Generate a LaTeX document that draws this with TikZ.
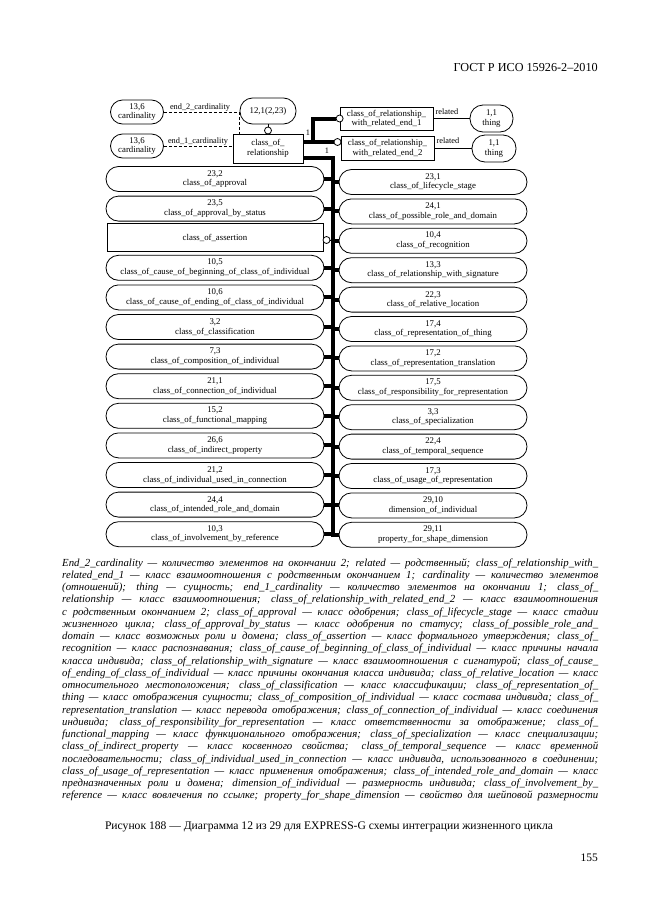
\documentclass[tikz,border=0pt]{standalone}
\usepackage{fontspec}
\setmainfont{Liberation Serif}
\usetikzlibrary{calc}
\newcommand\dfont{\fontsize{8.8}{9.6}\selectfont}
\newcommand\sfont{\fontsize{8.3}{9}\selectfont}
\newcommand\capfont{\fontsize{10.8}{12}\selectfont\itshape}
\begin{document}
\begin{tikzpicture}[x=1pt,y=-1pt,
  stad/.style={draw, line width=0.8pt, rounded corners=12.5pt, minimum height=25pt, inner sep=0pt, align=center, font=\dfont},
  lstad/.style={stad, minimum width=218pt},
  rstad/.style={stad, minimum width=188pt},
  ebox/.style={draw, line width=0.8pt, align=center, font=\dfont, inner sep=0pt},
  thk/.style={line width=4pt},
  thn/.style={line width=0.8pt},
  dashln/.style={line width=0.8pt, dash pattern=on 3pt off 2pt},
  oc/.style={circle, draw, fill=white, inner sep=0pt, minimum size=7pt, line width=0.8pt},
  lbl/.style={font=\sfont, inner sep=1pt},
  capl/.style={anchor=base west, inner sep=0pt, font=\capfont}
]
\useasboundingbox (0,0) rectangle (661,913);

% header
\node[anchor=base east, inner sep=0pt, font=\fontsize{12.2}{13}\selectfont] (hdr) at (598,71) {ГОСТ Р ИСО 15926-2–2010};

% top part
\node[stad, minimum width=53pt, minimum height=24pt, rounded corners=12pt] (c2) at (137,112) {13,6\\cardinality};
\node[stad, minimum width=53pt, minimum height=24pt, rounded corners=12pt] (c1) at (137,146) {13,6\\cardinality};
\node[stad, minimum width=56pt, minimum height=26pt] (sup) at (268,111) {12,1(2,23)};
\node[ebox, minimum width=70pt, minimum height=29pt] (cor) at (268,148.5) {class\_of\_\\relationship};

\coordinate (k2) at (239,134);
\draw[dashln] (c2.east) -| (k2);
\node[lbl, anchor=south] (lab2) at (200,112) {end\_2\_cardinality};
\draw[dashln] (c1.east) -- (c1.east -| cor.west);
\node[lbl, anchor=south] (lab1) at (198,146) {end\_1\_cardinality};

\node[oc] (osup) at (268,130.5) {};
\draw[thn] (sup.south) -- (osup.north);

\node[ebox, minimum width=93pt, minimum height=23pt] (e1) at (386.5,118.5) {class\_of\_relationship\_\\with\_related\_end\_1};
\node[ebox, minimum width=93pt, minimum height=24pt] (e2) at (387.5,148) {class\_of\_relationship\_\\with\_related\_end\_2};
\node[oc] (oA) at (e1.west) {};
\node[oc] (oB) at (337.5,142) {};

\coordinate (j1) at (313,142);
\draw[thk] (cor.east |- oB) -- (oB.west);
\draw[thk] (j1) |- (oA.west);
\node[lbl] (n1) at (308,133) {1};

\coordinate (b0) at (333,158);
\coordinate (b1) at (333,537);
\draw[thk] (cor.east |- b0) -- (b0) -- (b1);
\node[lbl] (n2) at (327,151) {1};

\node[stad, minimum width=43pt, minimum height=27pt, rounded corners=13pt] (t1) at (491.5,118.5) {1,1\\thing};
\node[stad, minimum width=44pt, minimum height=27pt, rounded corners=13pt] (t2) at (494,148.5) {1,1\\thing};
\draw[thn] (e1.east) -- (e1.east -| t1.west);
\draw[thn] (e2.east) -- (e2.east -| t2.west);
\node[lbl, anchor=south west] (rl1) at ($(e1.east)+(1,-3)$) {related};
\node[lbl, anchor=south west] (rl2) at ($(e2.east)+(1,-3)$) {related};

% columns
\newcommand\lnode[3]{\node[lstad] (l#1) at (215,{179+29.6*#1}) {#2\\#3}; \draw[thk] (l#1.east) -- (l#1.east -| b0);}
\newcommand\rnode[3]{\node[rstad] (r#1) at (433,{182+29.4*#1}) {#2\\#3}; \draw[thk] (r#1.west) -- (r#1.west -| b0);}

\lnode{0}{23,2}{class\_of\_approval}
\lnode{1}{23,5}{class\_of\_approval\_by\_status}
\node[ebox, minimum width=216pt, minimum height=28pt] (l2) at (215,237.5) {class\_of\_assertion};
\node[oc] (oas) at (326.5,240) {};
\draw[thn] (oas.east) -- (oas.east -| b0);
\lnode{3}{10,5}{class\_of\_cause\_of\_beginning\_of\_class\_of\_individual}
\lnode{4}{10,6}{class\_of\_cause\_of\_ending\_of\_class\_of\_individual}
\lnode{5}{3,2}{class\_of\_classification}
\lnode{6}{7,3}{class\_of\_composition\_of\_individual}
\lnode{7}{21,1}{class\_of\_connection\_of\_individual}
\lnode{8}{15,2}{class\_of\_functional\_mapping}
\lnode{9}{26,6}{class\_of\_indirect\_property}
\lnode{10}{21,2}{class\_of\_individual\_used\_in\_connection}
\lnode{11}{24,4}{class\_of\_intended\_role\_and\_domain}
\lnode{12}{10,3}{class\_of\_involvement\_by\_reference}

\rnode{0}{23,1}{class\_of\_lifecycle\_stage}
\rnode{1}{24,1}{class\_of\_possible\_role\_and\_domain}
\rnode{2}{10,4}{class\_of\_recognition}
\rnode{3}{13,3}{class\_of\_relationship\_with\_signature}
\rnode{4}{22,3}{class\_of\_relative\_location}
\rnode{5}{17,4}{class\_of\_representation\_of\_thing}
\rnode{6}{17,2}{class\_of\_representation\_translation}
\rnode{7}{17,5}{class\_of\_responsibility\_for\_representation}
\rnode{8}{3,3}{class\_of\_specialization}
\rnode{9}{22,4}{class\_of\_temporal\_sequence}
\rnode{10}{17,3}{class\_of\_usage\_of\_representation}
\rnode{11}{29,10}{dimension\_of\_individual}
\rnode{12}{29,11}{property\_for\_shape\_dimension}

% caption text
\newcommand\capline[2]{\node[capl] (cap#1) at (62,{566+12.25*#1}) {\makebox[536pt][s]{#2}};}
\capline{0}{End\_2\_cardinality — количество элементов на окончании 2; related — родственный; class\_of\_relationship\_with\_}
\capline{1}{related\_end\_1 — класс взаимоотношения с родственным окончанием 1; cardinality — количество элементов}
\capline{2}{(отношений); thing — сущность; end\_1\_cardinality — количество элементов на окончании 1; class\_of\_}
\capline{3}{relationship — класс взаимоотношения; class\_of\_relationship\_with\_related\_end\_2 — класс взаимоотношения}
\capline{4}{с родственным окончанием 2; class\_of\_approval — класс одобрения; class\_of\_lifecycle\_stage — класс стадии}
\capline{5}{жизненного цикла; class\_of\_approval\_by\_status — класс одобрения по статусу; class\_of\_possible\_role\_and\_}
\capline{6}{domain — класс возможных роли и домена; class\_of\_assertion — класс формального утверждения; class\_of\_}
\capline{7}{recognition — класс распознавания; class\_of\_cause\_of\_beginning\_of\_class\_of\_individual — класс причины начала}
\capline{8}{класса индивида; class\_of\_relationship\_with\_signature — класс взаимоотношения с сигнатурой; class\_of\_cause\_}
\capline{9}{of\_ending\_of\_class\_of\_individual — класс причины окончания класса индивида; class\_of\_relative\_location — класс}
\capline{10}{относительного местоположения; class\_of\_classification — класс классификации; class\_of\_representation\_of\_}
\capline{11}{thing — класс отображения сущности; class\_of\_composition\_of\_individual — класс состава индивида; class\_of\_}
\capline{12}{representation\_translation — класс перевода отображения; class\_of\_connection\_of\_individual — класс соединения}
\capline{13}{индивида; class\_of\_responsibility\_for\_representation — класс ответственности за отображение; class\_of\_}
\capline{14}{functional\_mapping — класс функционального отображения; class\_of\_specialization — класс специализации;}
\capline{15}{class\_of\_indirect\_property — класс косвенного свойства; class\_of\_temporal\_sequence — класс временной}
\capline{16}{последовательности; class\_of\_individual\_used\_in\_connection — класс индивида, использованного в соединении;}
\capline{17}{class\_of\_usage\_of\_representation — класс применения отображения; class\_of\_intended\_role\_and\_domain — класс}
\capline{18}{предназначенных роли и домена; dimension\_of\_individual — размерность индивида; class\_of\_involvement\_by\_}
\capline{19}{reference — класс вовлечения по ссылке; property\_for\_shape\_dimension — свойство для шейповой размерности}

\node[anchor=base, inner sep=0pt, font=\fontsize{11.6}{13}\selectfont] (fig) at (329,829) {Рисунок 188 — Диаграмма 12 из 29 для EXPRESS-G схемы интеграции жизненного цикла};
\node[anchor=base east, inner sep=0pt, font=\fontsize{11.5}{12}\selectfont] (pg) at (598,861) {155};
\end{tikzpicture}
\end{document}
